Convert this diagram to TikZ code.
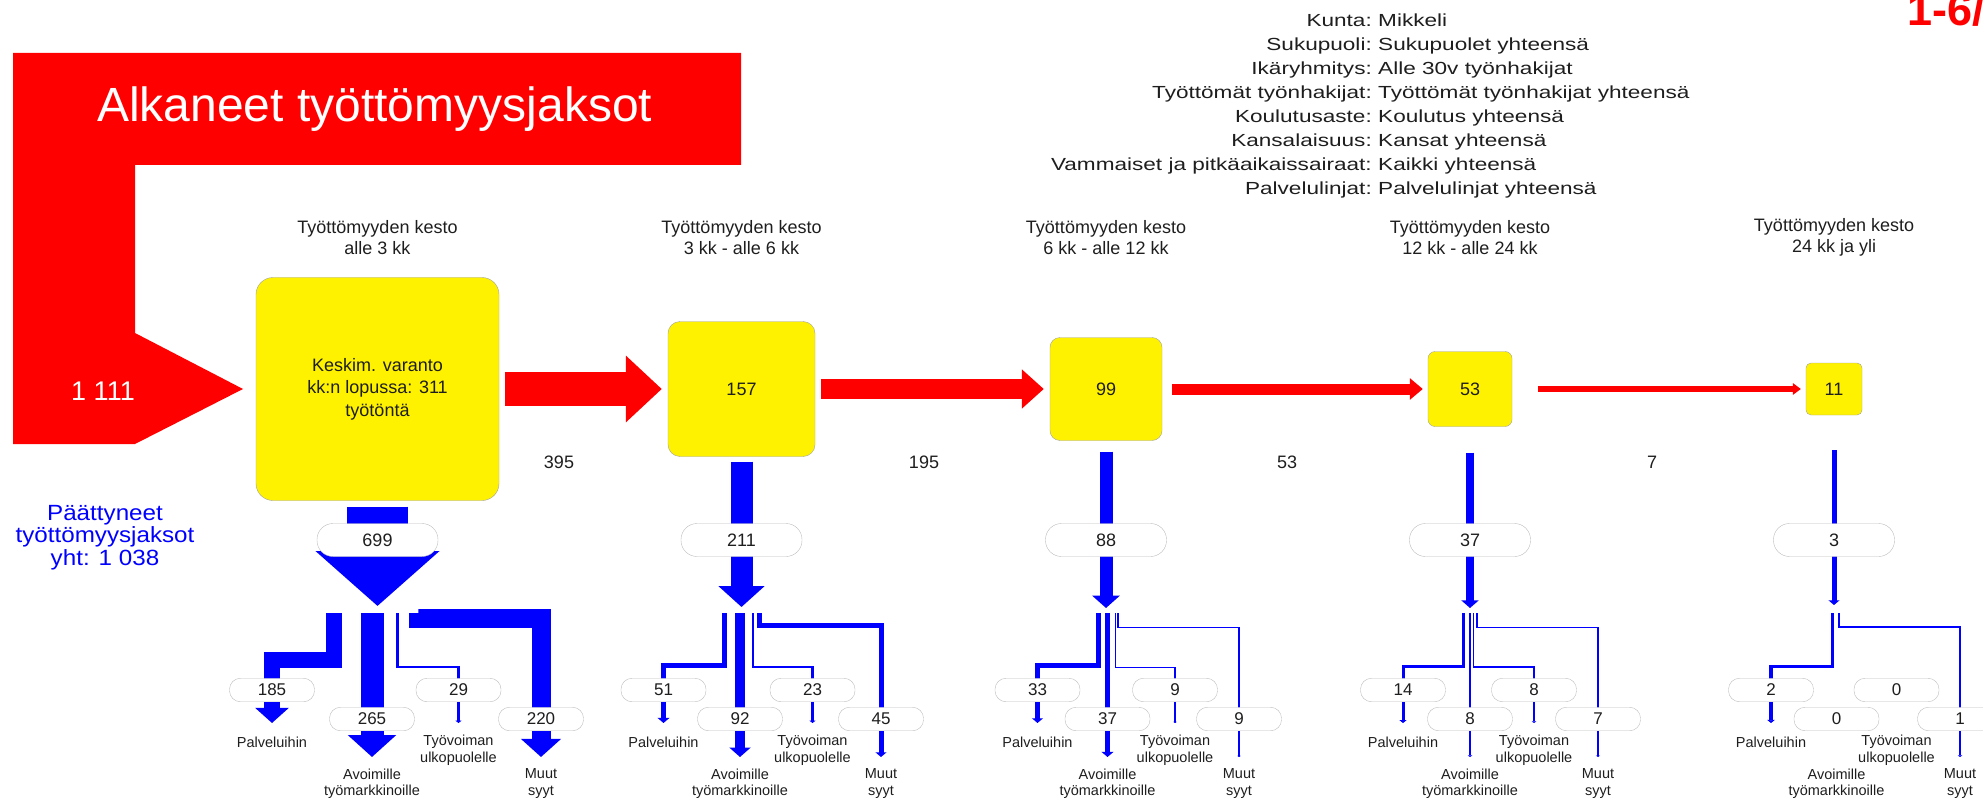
\documentclass[tikz,border=0pt]{standalone}
\usepackage{fontspec}
\setmainfont{Liberation Sans}
\usepackage{graphicx}
\usetikzlibrary{arrows.meta}

\definecolor{ink}{HTML}{1E1E1E}
\definecolor{boxline}{HTML}{A0A0A0}
\definecolor{pillline}{HTML}{BDBDBD}

% Horizontally widened text, as in the original chart
\newcommand{\venyta}[2][1.29]{\scalebox{#1}[1]{#2}}

\tikzset{
  varanto/.style={draw=boxline, fill=yellow, inner sep=0pt, rounded corners=#1,
    text=ink, font=\fontsize{18}{22.5}\selectfont, align=center},
  kesto/.style={text=ink, font=\fontsize{18}{21}\selectfont, align=center, inner sep=0pt},
  info/.style={text=ink, font=\fontsize{17.5}{21}\selectfont, inner sep=0pt},
  pill/.style={draw=pillline, fill=white, minimum width=121pt, minimum height=33pt,
    rounded corners=16pt, inner sep=0pt, text=ink, font=\fontsize{18}{21}\selectfont},
  minipill/.style={draw=pillline, fill=white, minimum width=85pt, minimum height=23.5pt,
    rounded corners=11pt, inner sep=0pt, text=ink, font=\fontsize{17}{20}\selectfont},
  lbl/.style={text=ink, font=\fontsize{14.5}{16.5}\selectfont, align=center, inner sep=0pt},
  redflow/.style={draw=red, line width=#1, -{Triangle[width=0pt 1.9, length=2pt 1]}},
  blueflow/.style={draw=blue, line width=#1, -{Triangle[width=1pt 2, length=0pt 0.95]}},
}

\begin{document}
\begin{tikzpicture}[x=1pt,y=-1pt]
\useasboundingbox (0,0) rectangle (1983,802);

% Incoming spells
\fill[red] (13,53) -- (741,53) -- (741,165) -- (135,165) -- (135,333)
  -- (243,389) -- (135,444) -- (13,444) -- cycle;
\node[text=white, font=\fontsize{48}{55}\selectfont, anchor=base west, inner sep=0pt]
  (otsikko) at (97,121.5) {Alkaneet työttömyysjaksot};
\node[text=white, font=\fontsize{27}{30}\selectfont, anchor=base, inner sep=0pt]
  (alkaneet) at (103,400) {1 111};
\node[text=red, font=\fontsize{45}{50}\selectfont\bfseries, anchor=base west, inner sep=0pt]
  (kausi) at (1907,26) {1-6/};

% Selection info
\foreach \lab/\val [count=\i, evaluate=\i as \y using 26.7+24*(\i-1)] in
  {Kunta/Mikkeli, Sukupuoli/Sukupuolet yhteensä, Ikäryhmitys/Alle 30v työnhakijat,
   Työttömät työnhakijat/Työttömät työnhakijat yhteensä, Koulutusaste/Koulutus yhteensä,
   Kansalaisuus/Kansat yhteensä, Vammaiset ja pitkäaikaissairaat/Kaikki yhteensä,
   Palvelulinjat/Palvelulinjat yhteensä}
{
  \node[info, anchor=base east] (rajaus\i) at (1372,\y) {\venyta{\lab:}};
  \node[info, anchor=base west] (arvo\i) at (1378,\y) {\venyta{\val}};
}

% Duration headings
\foreach \c/\t [count=\i] in {377.5/alle 3 kk, 741.5/3 kk - alle 6 kk,
  1106/6 kk - alle 12 kk, 1470/12 kk - alle 24 kk, 1834/24 kk ja yli}
  \node[kesto] (kesto\i) at (\c,237.5) {Työttömyyden kesto\\\t};

% Stock boxes
\node[varanto=17pt, minimum width=243pt, minimum height=223pt] (v1) at (377.5,389)
  {Keskim. varanto\\kk:n lopussa: 311\\työtöntä};
\node[varanto=12pt, minimum width=147pt, minimum height=135pt] (v2) at (741.5,389) {157};
\node[varanto=10pt, minimum width=112pt, minimum height=103pt] (v3) at (1106,389) {99};
\node[varanto=7pt, minimum width=84pt, minimum height=75pt] (v4) at (1470,389) {53};
\node[varanto=5pt, minimum width=56pt, minimum height=52pt] (v5) at (1834,389) {11};

% Flows to the next duration
\draw[redflow=34pt, shorten <=6pt, shorten >=6pt] (v1) -- (v2);
\draw[redflow=20pt, shorten <=6pt, shorten >=6pt] (v2) -- (v3);
\draw[redflow=11pt, shorten <=10pt, shorten >=5pt] (v3) -- (v4);
\draw[redflow=6pt, shorten <=26pt, shorten >=5pt] (v4) -- (v5);
\foreach \x/\n [count=\i] in {559/395, 924/195, 1287/53, 1652/7}
  \node[kesto] (siirto\i) at (\x,462) {\n};

% Ended spells
\node[text=blue, font=\fontsize{22}{22.5}\selectfont, align=center, inner sep=0pt]
  (paattyneet) at (105,537.5)
  {\venyta[1.1]{Päättyneet}\\\venyta[1.1]{työttömyysjaksot}\\\venyta[1.1]{yht: 1 038}};

\coordinate (s1) at (377.5,606);
\coordinate (s2) at (741.5,607);
\coordinate (s3) at (1106,608);
\coordinate (s4) at (1470,608);
\coordinate (s5) at (1834,605);
\draw[draw=blue, line width=61pt, -{Triangle[width=121pt,length=55pt]}, shorten <=6pt] (v1) -- (s1);
\draw[blueflow=22pt, shorten <=5pt] (v2) -- (s2);
\draw[blueflow=13pt, shorten <=11pt] (v3) -- (s3);
\draw[blueflow=8pt, shorten <=26pt] (v4) -- (s4);
\draw[blueflow=5pt, shorten <=35pt] (v5) -- (s5);

\foreach \x/\n [count=\i] in {377.5/699, 741.5/211, 1106/88, 1470/37, 1834/3}
  \node[pill] (k\i) at (\x,540) {\n};

% Split by destination, column by column
\draw[blueflow=16pt] (333.5,613) -- (333.5,660) -| (272,723);
\draw[blueflow=23pt] (372,613) -- (372,757);
\draw[blueflow=2.5pt] (397.5,613) -- (397.5,666.75) -| (458.5,723);
\draw[blueflow=19pt] (418.5,613) -- (418.5,618.5) -| (541,757);

\draw[blueflow=5.5pt] (724.5,613) -- (724.5,665.25) -| (663.5,723);
\draw[blueflow=10pt] (740,613) -- (740,757);
\draw[blueflow=2.5pt] (753,613) -- (753,666.75) -| (812.5,723);
\draw[blueflow=5pt] (759.5,613) -- (759.5,625.5) -| (881,757);

\draw[blueflow=5pt] (1098,613) -- (1098,665.5) -| (1037.5,723);
\draw[blueflow=5.5pt] (1107.5,613) -- (1107.5,757);
\draw[blueflow=1.3pt] (1115.5,613) -- (1115.5,667.35) -| (1175,723);
\draw[blueflow=1.3pt] (1118,613) -- (1118,627.35) -| (1239,757);

\draw[blueflow=3pt] (1463.5,613) -- (1463.5,666.5) -| (1403,723);
\draw[blueflow=1.7pt] (1470,613) -- (1470,757);
\draw[blueflow=1.7pt] (1473.5,613) -- (1473.5,667.15) -| (1534,723);
\draw[blueflow=1.5pt] (1477,613) -- (1477,627.25) -| (1598,757);

\draw[blueflow=3.3pt] (1832.5,613) -- (1832.5,666.35) -| (1771,723);
\draw[blueflow=1.7pt] (1839,613) -- (1839,627.15) -| (1960,757);

% Destination counts
\foreach \x/\y/\n [count=\j] in {272/690/185, 372/719/265, 458.5/690/29, 541/719/220,
  663.5/690/51, 740/719/92, 812.5/690/23, 881/719/45,
  1037.5/690/33, 1107.5/719/37, 1175/690/9, 1239/719/9,
  1403/690/14, 1470/719/8, 1534/690/8, 1598/719/7,
  1771/690/2, 1836.5/719/0, 1896.5/690/0, 1960/719/1}
  \node[minipill] (m\j) at (\x,\y) {\n};

% Destination names
\foreach \pa/\av/\ty/\mu [count=\i] in {272/372/458.5/541, 663.5/740/812.5/881,
  1037.5/1107.5/1175/1239, 1403/1470/1534/1598, 1771/1836.5/1896.5/1960}
{
  \node[lbl] (palv\i) at (\pa,742) {Palveluihin};
  \node[lbl] (tyov\i) at (\ty,750) {Työvoiman\\ulkopuolelle};
  \node[lbl] (avoi\i) at (\av,783.5) {Avoimille\\työmarkkinoille};
  \node[lbl] (muut\i) at (\mu,783.5) {Muut\\syyt};
}
\end{tikzpicture}
\end{document}
